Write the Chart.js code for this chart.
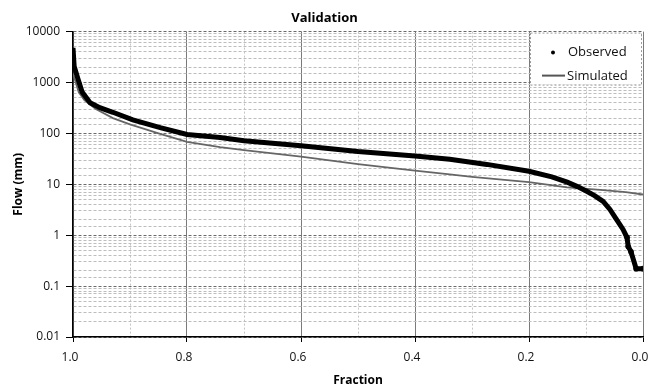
<!DOCTYPE html>
<html lang="en">
<head>
<meta charset="UTF-8">
<title>Validation</title>
<style>
  html, body { margin: 0; padding: 0; background: #fff; }
  #wrap { width: 649px; height: 392px; }
</style>
</head>
<body>
<div id="wrap"><canvas id="flow-chart"></canvas></div>
<script src="https://cdn.jsdelivr.net/npm/chart.js"></script>
<script>
// observed flow duration curve
const obsFraction = [1.0, 0.998, 0.991, 0.984, 0.97, 0.953, 0.93, 0.895, 0.847, 0.8, 0.742, 0.7, 0.6, 0.5, 0.4, 0.339, 0.274, 0.2, 0.16, 0.133, 0.115, 0.098, 0.085, 0.07, 0.058, 0.046, 0.035, 0.028, 0.026, 0.021, 0.012, 0.0];
const obsFlow = [4800, 2100, 1150, 650, 400, 320, 260, 185, 130, 95, 83, 72, 57, 44, 36, 31, 24.6, 18, 14, 11, 9, 7.2, 6, 4.6, 3.2, 2.0, 1.3, 0.9, 0.6, 0.47, 0.22, 0.22];

// simulated curve
const simFraction = [1.0, 0.99, 0.98, 0.96, 0.93, 0.9, 0.85, 0.8, 0.742, 0.7, 0.6, 0.5, 0.4, 0.339, 0.3, 0.2, 0.133, 0.075, 0.03, 0.0];
const simFlow = [1500, 650, 450, 300, 200, 150, 100, 68, 54, 47, 35, 25, 18.5, 15.7, 14, 11, 8.7, 7.8, 7.0, 6.3];

const seriesNames = ['Observed', 'Simulated'];
const flowTicks = [0.01, 0.1, 1, 10, 100, 1000, 10000];

const FONT = 'Open Sans';

function isDecade(v) {
    const e = Math.log10(v);
    return Math.abs(e - Math.round(e)) < 1e-6;
}
function isMajorFraction(v) {
    return Math.round(v * 10) % 2 === 0;
}

// legend box drawn inside the plot, top right
const legendBox = {
    id: 'legendBox',
    afterDraw(chart) {
        const {ctx, chartArea} = chart;
        const w = 111, h = 52;
        const x = chartArea.right - w - 2, y = chartArea.top + 1;
        ctx.save();
        ctx.fillStyle = '#fff';
        ctx.fillRect(x, y, w, h);
        ctx.strokeStyle = '#999';
        ctx.setLineDash([2, 2]);
        ctx.lineWidth = 1;
        ctx.strokeRect(x + 0.5, y + 0.5, w, h);
        ctx.setLineDash([]);

        ctx.fillStyle = '#000';
        ctx.beginPath();
        ctx.arc(x + 23, y + 20, 2, 0, Math.PI * 2);
        ctx.fill();

        ctx.strokeStyle = '#555';
        ctx.lineWidth = 2;
        ctx.beginPath();
        ctx.moveTo(x + 12, y + 43);
        ctx.lineTo(x + 35, y + 43);
        ctx.stroke();

        ctx.font = '13px "' + FONT + '"';
        ctx.textBaseline = 'middle';
        ctx.fillStyle = '#111';
        ctx.fillText(chart.data.datasets[0].label, x + 38, y + 20);
        ctx.fillText(chart.data.datasets[1].label, x + 37, y + 44);
        ctx.restore();
    }
};

const config = {
    type: 'scatter',
    data: {
        datasets: [{
            label: seriesNames[0],
            data: obsFraction.map((f, i) => ({x: f, y: obsFlow[i]})),
            showLine: true,
            borderColor: '#000',
            backgroundColor: '#000',
            borderWidth: 5,
            pointBorderWidth: 0,
            pointRadius: ctx => (obsFlow[ctx.dataIndex] < 1 ? 2.8 : 0),
            order: 1
        }, {
            label: seriesNames[1],
            data: simFraction.map((f, i) => ({x: f, y: simFlow[i]})),
            showLine: true,
            borderColor: '#666',
            backgroundColor: '#666',
            borderWidth: 1.8,
            pointRadius: 0,
            order: 2
        }]
    },
    options: {
        responsive: true,
        maintainAspectRatio: false,
        animation: false,
        layout: {padding: {left: 0, right: 0, top: 0, bottom: 0}},
        plugins: {
            legend: {display: false},
            tooltip: {enabled: false},
            title: {
                display: true,
                text: 'Validation',
                color: '#000',
                font: {family: FONT, size: 13, weight: 'bold'},
                padding: {top: 10, bottom: 6}
            }
        },
        scales: {
            x: {
                type: 'linear',
                reverse: true,
                min: 0,
                max: 1,
                afterFit: s => { s.height = 55; s.paddingLeft = 0; s.paddingRight = 6; },
                ticks: {
                    stepSize: 0.1,
                    autoSkip: false,
                    maxRotation: 0,
                    padding: 8,
                    labelOffset: -3,
                    color: '#111',
                    font: {family: FONT, size: 12},
                    callback: v => (isMajorFraction(v) ? v.toFixed(1) : '')
                },
                grid: {
                    color: ctx => (isMajorFraction(ctx.tick.value) ? '#7a7a7a' : '#c4c4c4'),
                    tickColor: ctx => (isMajorFraction(ctx.tick.value) ? '#000' : 'rgba(0,0,0,0)'),
                    tickLength: 5
                },
                border: {
                    color: '#000',
                    width: 1.5,
                    dash: ctx => (ctx.tick && !isMajorFraction(ctx.tick.value) ? [2, 2] : [])
                },
                title: {
                    display: true,
                    text: 'Fraction',
                    color: '#000',
                    font: {family: FONT, size: 12, weight: 'bold'},
                    padding: {top: 0, bottom: 4}
                }
            },
            y: {
                type: 'logarithmic',
                min: flowTicks[0],
                max: flowTicks[flowTicks.length - 1],
                afterFit: s => { s.width = 73; },
                ticks: {
                    autoSkip: false,
                    padding: 6,
                    color: '#111',
                    font: {family: FONT, size: 12},
                    callback: v => (isDecade(v) ? String(flowTicks.find(t => Math.abs(t - v) / t < 1e-6)) : '')
                },
                grid: {
                    color: ctx => (isDecade(ctx.tick.value) ? '#6a6a6a' : '#bdbdbd'),
                    tickColor: ctx => (isDecade(ctx.tick.value) ? '#000' : 'rgba(0,0,0,0)'),
                    tickLength: 7
                },
                border: {
                    color: '#000',
                    width: 1.5,
                    dash: ctx => (ctx.tick ? [3, 2] : [])
                },
                title: {
                    display: true,
                    text: 'Flow (mm)',
                    color: '#000',
                    font: {family: FONT, size: 12, weight: 'bold'},
                    padding: {top: 11, bottom: 0}
                }
            }
        }
    },
    plugins: [legendBox]
};

const chart = new Chart(document.getElementById('flow-chart'), config);
</script>
</body>
</html>
